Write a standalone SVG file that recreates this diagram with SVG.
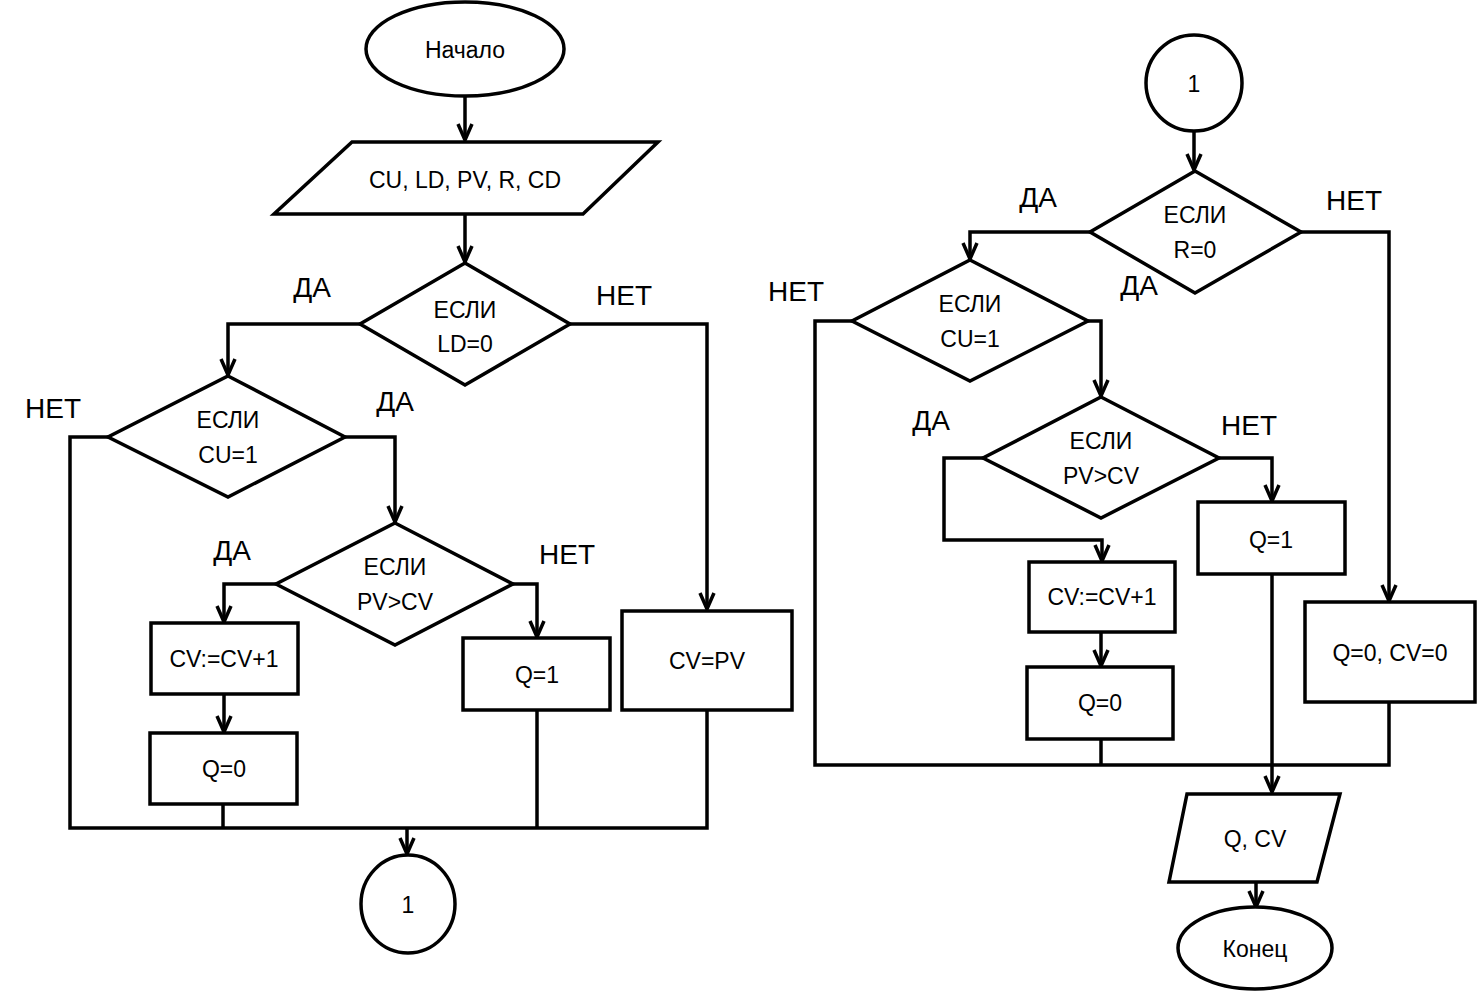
<svg xmlns="http://www.w3.org/2000/svg" width="1477" height="993" viewBox="0 0 1477 993">
<style>
.s{fill:#fff;stroke:#000;stroke-width:3.5}
.c{fill:none;stroke:#000;stroke-width:3.5}
.t{font-family:"Liberation Sans",Arial,sans-serif;font-size:23px;text-anchor:middle;fill:#000}
.l{font-family:"Liberation Sans",Arial,sans-serif;font-size:28px;text-anchor:middle;fill:#000}
</style>
<defs>
<marker id="a" markerUnits="userSpaceOnUse" markerWidth="20" markerHeight="22" refX="17" refY="10" orient="auto" viewBox="0 0 20 20">
<polyline points="1,3 17,10 1,17" fill="none" stroke="#000" stroke-width="3.5"/>
</marker>
</defs>
<rect width="1477" height="993" fill="#fff"/>
<g id="connectors">
<line class="c" x1="465" y1="96" x2="465" y2="140" marker-end="url(#a)"/>
<line class="c" x1="465" y1="214" x2="465" y2="262" marker-end="url(#a)"/>
<polyline class="c" points="360,324 228,324 228,375" marker-end="url(#a)"/>
<polyline class="c" points="570,324 707,324 707,609" marker-end="url(#a)"/>
<polyline class="c" points="345,437 395,437 395,522" marker-end="url(#a)"/>
<polyline class="c" points="276,584 224,584 224,622" marker-end="url(#a)"/>
<polyline class="c" points="513,584 537,584 537,637" marker-end="url(#a)"/>
<line class="c" x1="224" y1="694" x2="224" y2="732" marker-end="url(#a)"/>
<polyline class="c" points="108,437 70,437 70,828 707,828 707,710"/>
<line class="c" x1="223" y1="804" x2="223" y2="828"/>
<line class="c" x1="537" y1="710" x2="537" y2="828"/>
<line class="c" x1="407" y1="828" x2="407" y2="854" marker-end="url(#a)"/>
<line class="c" x1="1194" y1="131" x2="1194" y2="170" marker-end="url(#a)"/>
<polyline class="c" points="1090,232 970,232 970,259" marker-end="url(#a)"/>
<polyline class="c" points="1301,232 1389,232 1389,601" marker-end="url(#a)"/>
<polyline class="c" points="1088,321 1101,321 1101,396" marker-end="url(#a)"/>
<polyline class="c" points="983,458 944,458 944,540 1102,540 1102,561" marker-end="url(#a)"/>
<polyline class="c" points="1219,458 1272,458 1272,501" marker-end="url(#a)"/>
<line class="c" x1="1101" y1="632" x2="1101" y2="666" marker-end="url(#a)"/>
<polyline class="c" points="852,321 815,321 815,765 1389,765 1389,702"/>
<line class="c" x1="1101" y1="739" x2="1101" y2="765"/>
<line class="c" x1="1272" y1="574" x2="1272" y2="792" marker-end="url(#a)"/>
<line class="c" x1="1256" y1="882" x2="1256" y2="907" marker-end="url(#a)"/>
</g>
<g id="labels">
<text class="l" x="312" y="297">ДА</text>
<text class="l" x="624" y="305">НЕТ</text>
<text class="l" x="53" y="418">НЕТ</text>
<text class="l" x="395" y="411">ДА</text>
<text class="l" x="232" y="560">ДА</text>
<text class="l" x="567" y="564">НЕТ</text>
<text class="l" x="1038" y="207">ДА</text>
<text class="l" x="1354" y="210">НЕТ</text>
<text class="l" x="1139" y="295">ДА</text>
<text class="l" x="796" y="301">НЕТ</text>
<text class="l" x="931" y="430">ДА</text>
<text class="l" x="1249" y="435">НЕТ</text>
</g>
<g id="start"><ellipse class="s" cx="465" cy="49" rx="99" ry="47"/><text class="t" x="465" y="58">Начало</text></g>
<g id="input"><polygon class="s" points="352,142 658,142 583,214 274,214"/><text class="t" x="465" y="188">CU, LD, PV, R, CD</text></g>
<g id="ifLD"><polygon class="s" points="465,263 570,324 465,385 360,324"/><text class="t" x="465" y="318">ЕСЛИ</text><text class="t" x="465" y="352">LD=0</text></g>
<g id="ifCU1"><polygon class="s" points="228,376 345,437 228,497 108,437"/><text class="t" x="228" y="428">ЕСЛИ</text><text class="t" x="228" y="463">CU=1</text></g>
<g id="ifPV1"><polygon class="s" points="395,523 513,584 395,645 276,584"/><text class="t" x="395" y="575">ЕСЛИ</text><text class="t" x="395" y="610">PV&gt;CV</text></g>
<g id="inc1"><rect class="s" x="151" y="623" width="147" height="71"/><text class="t" x="224" y="667">CV:=CV+1</text></g>
<g id="q1a"><rect class="s" x="463" y="638" width="147" height="72"/><text class="t" x="537" y="683">Q=1</text></g>
<g id="cvpv"><rect class="s" x="622" y="611" width="170" height="99"/><text class="t" x="707" y="669">CV=PV</text></g>
<g id="q0a"><rect class="s" x="150" y="733" width="147" height="71"/><text class="t" x="224" y="777">Q=0</text></g>
<g id="conn1a"><ellipse class="s" cx="408" cy="904" rx="47" ry="49"/><text class="t" x="408" y="913">1</text></g>
<g id="conn1b"><ellipse class="s" cx="1194" cy="83" rx="48" ry="48"/><text class="t" x="1194" y="92">1</text></g>
<g id="ifR"><polygon class="s" points="1195,171 1301,232 1195,293 1090,232"/><text class="t" x="1195" y="223">ЕСЛИ</text><text class="t" x="1195" y="258">R=0</text></g>
<g id="ifCU2"><polygon class="s" points="970,260 1088,321 970,381 852,321"/><text class="t" x="970" y="312">ЕСЛИ</text><text class="t" x="970" y="347">CU=1</text></g>
<g id="ifPV2"><polygon class="s" points="1101,397 1219,458 1101,518 983,458"/><text class="t" x="1101" y="449">ЕСЛИ</text><text class="t" x="1101" y="484">PV&gt;CV</text></g>
<g id="inc2"><rect class="s" x="1029" y="562" width="146" height="70"/><text class="t" x="1102" y="605">CV:=CV+1</text></g>
<g id="q0b"><rect class="s" x="1027" y="667" width="146" height="72"/><text class="t" x="1100" y="711">Q=0</text></g>
<g id="q1b"><rect class="s" x="1198" y="502" width="147" height="72"/><text class="t" x="1271" y="548">Q=1</text></g>
<g id="reset"><rect class="s" x="1305" y="602" width="170" height="100"/><text class="t" x="1390" y="661">Q=0, CV=0</text></g>
<g id="output"><polygon class="s" points="1187,794 1340,794 1317,882 1169,882"/><text class="t" x="1255" y="847">Q, CV</text></g>
<g id="end"><ellipse class="s" cx="1255" cy="948" rx="77" ry="41"/><text class="t" x="1255" y="957">Конец</text></g>
</svg>
